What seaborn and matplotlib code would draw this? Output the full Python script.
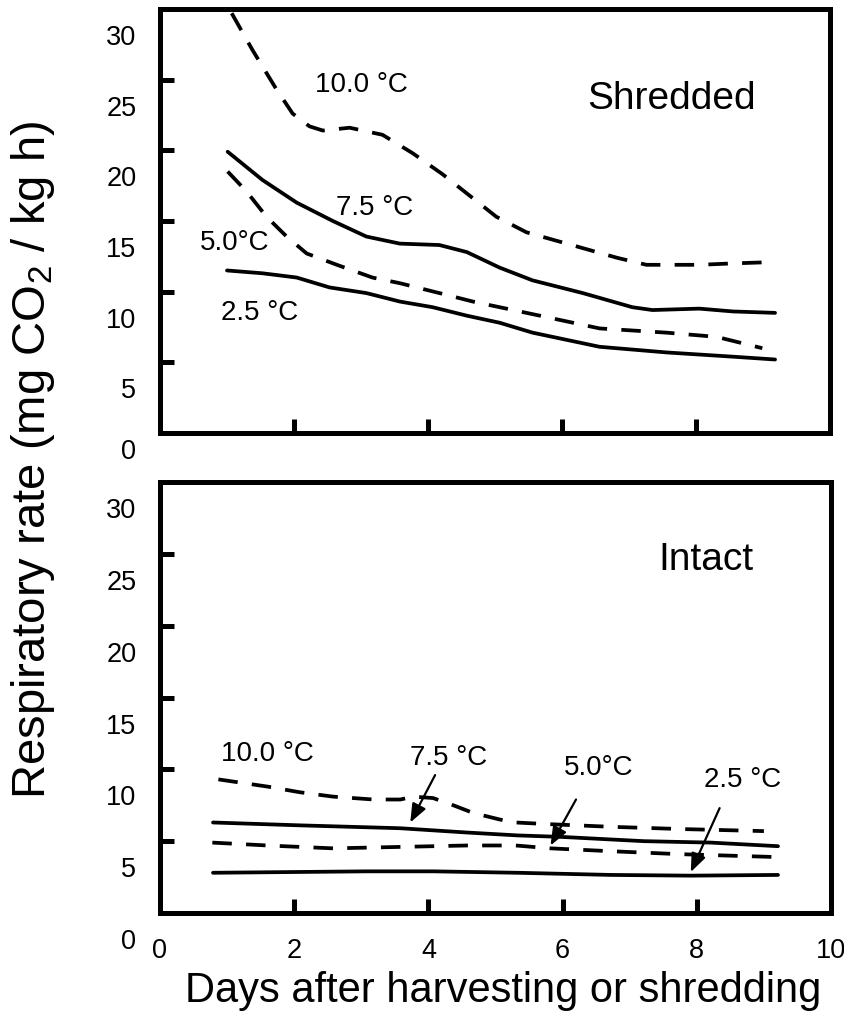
import numpy as np
import pandas as pd
import matplotlib
matplotlib.use("Agg")
import matplotlib.pyplot as plt
import matplotlib.transforms as mtransforms
import seaborn as sns

# Temperatures (curve labels)
temps = ["10.0 °C", "7.5 °C", "5.0°C", "2.5 °C"]

# Shredded product
shred_days_100 = [1.07, 1.38, 1.74, 1.98, 2.23, 2.43, 2.83, 3.32, 3.77, 4.22, 4.62, 5.02, 5.47, 6.07, 6.82, 7.26, 8.05, 8.55, 9.18]
shred_rate_100 = [29.7, 27.1, 24.3, 22.6, 21.7, 21.4, 21.6, 21.1, 19.8, 18.3, 16.8, 15.3, 14.2, 13.4, 12.4, 11.9, 11.9, 12.0, 12.1]
shred_days_75 = [1.01, 1.53, 2.04, 2.58, 3.08, 3.58, 4.17, 4.58, 5.07, 5.56, 6.31, 7.05, 7.35, 8.05, 8.55, 9.18]
shred_rate_75 = [19.9, 17.9, 16.3, 15.0, 13.9, 13.4, 13.3, 12.8, 11.7, 10.8, 9.9, 8.9, 8.7, 8.8, 8.6, 8.5]
shred_days_50 = [1.01, 1.29, 1.59, 1.89, 2.19, 2.64, 3.17, 3.58, 4.17, 4.67, 5.17, 5.67, 6.56, 7.56, 8.31, 8.99]
shred_rate_50 = [18.5, 17.1, 15.3, 13.9, 12.7, 11.9, 11.0, 10.6, 9.9, 9.3, 8.8, 8.3, 7.4, 7.1, 6.8, 6.0]
shred_days_25 = [1.00, 1.53, 2.04, 2.53, 3.08, 3.58, 4.07, 4.58, 5.07, 5.56, 6.56, 7.56, 8.55, 9.18]
shred_rate_25 = [11.5, 11.3, 11.0, 10.3, 9.9, 9.3, 8.9, 8.3, 7.8, 7.1, 6.1, 5.7, 5.4, 5.2]

# Intact product
intact_days_100 = [0.87, 1.60, 2.09, 2.58, 3.18, 3.58, 3.78, 4.07, 4.37, 4.67, 5.07, 5.30, 5.72, 6.72, 7.72, 9.00]
intact_rate_100 = [9.3, 8.8, 8.4, 8.1, 7.9, 7.9, 8.1, 8.0, 7.5, 6.96, 6.5, 6.3, 6.2, 6.0, 5.85, 5.7]
intact_days_75 = [0.79, 2.09, 3.58, 4.58, 5.33, 5.97, 7.21, 8.21, 9.21]
intact_rate_75 = [6.3, 6.1, 5.9, 5.6, 5.4, 5.3, 5.0, 4.9, 4.65]
intact_days_50 = [0.78, 1.60, 2.58, 3.58, 4.58, 5.30, 5.82, 6.72, 7.72, 9.15]
intact_rate_50 = [4.9, 4.7, 4.5, 4.6, 4.7, 4.7, 4.5, 4.3, 4.1, 3.9]
intact_days_25 = [0.79, 3.09, 4.07, 5.33, 6.72, 7.91, 9.21]
intact_rate_25 = [2.8, 2.9, 2.9, 2.8, 2.65, 2.6, 2.65]

y_ticks = [0, 5, 10, 15, 20, 25, 30]
x_ticks = [0, 2, 4, 6, 8, 10]


def long_form(days_list, rate_list):
    frames = []
    for t, d, r in zip(temps, days_list, rate_list):
        frames.append(pd.DataFrame({"day": d, "rate": r, "temp": t}))
    return pd.concat(frames, ignore_index=True)


shred_df = long_form([shred_days_100, shred_days_75, shred_days_50, shred_days_25],
                     [shred_rate_100, shred_rate_75, shred_rate_50, shred_rate_25])
intact_df = long_form([intact_days_100, intact_days_75, intact_days_50, intact_days_25],
                      [intact_rate_100, intact_rate_75, intact_rate_50, intact_rate_25])

sns.set_style("white")
plt.rcParams["font.family"] = ["Liberation Sans", "DejaVu Sans"]
plt.rcParams["mathtext.fontset"] = "custom"
plt.rcParams["mathtext.rm"] = "Liberation Sans"
plt.rcParams["mathtext.default"] = "rm"
for key in ["text.color", "axes.labelcolor", "xtick.color", "ytick.color", "axes.edgecolor"]:
    plt.rcParams[key] = "black"

fig = plt.figure(figsize=(8.45, 10.16), dpi=100)
W, H = 845, 1016
ax_top = fig.add_axes([160 / W, 1 - 433 / H, 670 / W, 424 / H])
ax_bot = fig.add_axes([160 / W, 1 - 913 / H, 671 / W, 431 / H])

dash_map = {"10.0 °C": (5.2, 3.8), "7.5 °C": "", "5.0°C": (5.2, 3.8), "2.5 °C": ""}
black = {t: "black" for t in temps}

for ax, df in [(ax_top, shred_df), (ax_bot, intact_df)]:
    sns.lineplot(data=df, x="day", y="rate", hue="temp", style="temp",
                 palette=black, dashes=dash_map, sort=False, estimator=None,
                 linewidth=2.7, legend=False, ax=ax)
    ax.set_xlim(0, 10)
    ax.set_ylim(0, 30)
    ax.set_xlabel("")
    ax.set_ylabel("")
    for sp in ax.spines.values():
        sp.set_visible(True)
        sp.set_linewidth(3.6)
        sp.set_color("black")
    ax.set_yticks(y_ticks)
    ax.tick_params(direction="in", length=10, width=3.6, labelsize=19.5,
                   color="black", labelcolor="black", pad=17,
                   bottom=True, left=True, top=False, right=False)

ax_top.set_xticks(x_ticks[1:-1])
ax_top.tick_params(axis="x", labelbottom=False)
ax_bot.set_xticks(x_ticks)
ax_bot.tick_params(axis="x", pad=18)

# y tick labels sit a little below their tick marks in the original
for ax in (ax_top, ax_bot):
    for tick in ax.yaxis.get_major_ticks():
        dy = 16 if tick.get_loc() == 0 else 26
        off = mtransforms.ScaledTranslation(0, -dy / 100, fig.dpi_scale_trans)
        tick.label1.set_transform(tick.label1.get_transform() + off)

# annotations, upper panel
ax_top.text(3.01, 24.6, "10.0 °C", fontsize=20, ha="center", va="center")
ax_top.text(3.21, 15.9, "7.5 °C", fontsize=20, ha="center", va="center")
ax_top.text(1.12, 13.45, "5.0°C", fontsize=20, ha="center", va="center")
ax_top.text(1.49, 8.5, "2.5 °C", fontsize=20, ha="center", va="center")
ax_top.text(7.64, 23.6, "Shredded", fontsize=28, ha="center", va="center")

# annotations, lower panel
ax_bot.text(8.13, 24.6, "Intact", fontsize=28, ha="center", va="center")
ax_bot.text(1.60, 11.1, "10.0 °C", fontsize=20, ha="center", va="center")
ax_bot.text(4.30, 10.8, "7.5 °C", fontsize=20, ha="center", va="center")
ax_bot.text(6.54, 10.1, "5.0°C", fontsize=20, ha="center", va="center")
ax_bot.text(8.69, 9.25, "2.5 °C", fontsize=20, ha="center", va="center")

arrow_kw = dict(arrowstyle="-|>,head_length=0.7,head_width=0.28", color="black",
                lw=1.6, mutation_scale=16, shrinkA=0, shrinkB=0)
for tail, tip in [((4.10, 9.6), (3.73, 6.3)),
                  ((6.20, 7.9), (5.82, 4.7)),
                  ((8.34, 7.3), (7.91, 2.85))]:
    ax_bot.annotate("", xy=tip, xytext=tail, arrowprops=arrow_kw)

fig.text(33 / W, 1 - 460 / H, "Respiratory rate (mg CO$_2$ / kg h)",
         rotation=90, ha="center", va="center", fontsize=34)
fig.text(503 / W, 1 - 1002 / H, "Days after harvesting or shredding",
         ha="center", va="baseline", fontsize=30)

fig.savefig("out.png", dpi=100, facecolor="white")
